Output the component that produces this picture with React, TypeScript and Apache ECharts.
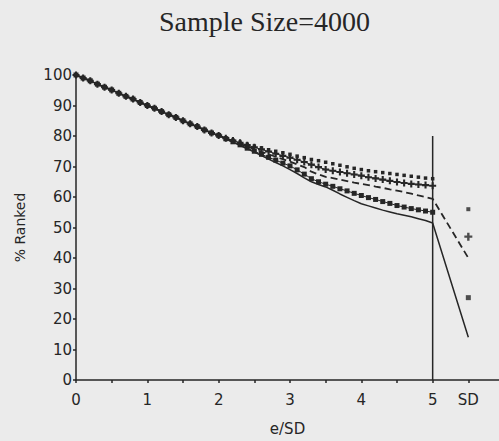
import React, { useEffect, useRef } from "react";
import * as echarts from "echarts";

const xValues = [0,0.1,0.2,0.3,0.4,0.5,0.6,0.7,0.8,0.9,1.0,1.1,1.2,1.3,1.4,1.5,1.6,1.7,1.8,1.9,2.0,2.1,2.2,2.3,2.4,2.5,2.6,2.7,2.8,2.9,3.0,3.1,3.2,3.3,3.4,3.5,3.6,3.7,3.8,3.9,4.0,4.1,4.2,4.3,4.4,4.5,4.6,4.7,4.8,4.9,5.0];

const common = [100,99.0,98.1,97.0,96.0,95.1,94.0,93.0,92.1,91.0,90.0,89.1,88.0,87.0,86.1,85.0,84.0,83.1,82.0,81.0,80.2];

const dottedTail = [79.4,78.7,78.0,77.3,76.7,76.1,75.5,75.0,74.5,74.0,73.4,72.9,72.3,71.9,71.4,70.9,70.4,69.9,69.4,69.0,68.6,68.3,68.0,67.7,67.4,67.1,66.8,66.5,66.2,66.0];
const plusTail = [79.3,78.5,77.8,77.0,76.3,75.6,74.9,74.2,73.5,72.9,72.2,71.5,70.6,69.8,69.0,68.6,68.2,67.8,67.4,67.0,66.5,66.1,65.7,65.3,64.9,64.6,64.3,64.1,63.9,63.7];
const dashedTail = [79.2,78.3,77.4,76.6,75.7,74.8,74.0,73.2,72.4,71.6,70.7,69.8,68.3,67.4,66.6,66.2,65.7,65.2,64.7,64.3,63.9,63.4,63.0,62.5,62.1,61.6,61.1,60.5,60.0,59.4];
const crossTail = [79.1,78.1,77.1,76.0,75.0,74.0,73.0,72.1,71.1,70.2,68.9,67.5,66.0,65.0,64.2,63.5,62.7,62.0,61.2,60.5,59.8,59.2,58.5,57.9,57.2,56.7,56.2,55.8,55.4,55.0];
const solidTail = [79.0,78.0,76.9,75.8,74.7,73.6,72.4,71.3,70.2,69.0,67.7,66.3,65.0,64.1,63.3,62.2,61.0,59.9,58.8,57.8,57.1,56.4,55.7,55.1,54.5,54.0,53.5,52.9,52.3,51.5];

const sdX = 5.5;
const sdDotted = 56;
const sdPlus = 47;
const sdDashed = 40;
const sdCross = 27;
const sdSolid = 14;

const dividerX = 5;
const dividerY = [0, 80];

const xTickLabels: Record<string, string> = { "0": "0", "1": "1", "2": "2", "3": "3", "4": "4", "5": "5", "5.5": "SD" };

const INK = "#262626";
const PLUS = "path://M3.5,0H6.5V3.5H10V6.5H6.5V10H3.5V6.5H0V3.5H3.5Z";

function build(tail: number[]) {
  const ys = common.concat(tail);
  return xValues.map((x, i) => [x, ys[i]]);
}

export default function App() {
  const ref = useRef<HTMLDivElement>(null);
  useEffect(() => {
    if (!ref.current) return;
    const chart = echarts.init(ref.current, null, { renderer: "svg" });
    const sans = "DejaVu Sans";
    chart.setOption({
      animation: false,
      backgroundColor: "#ebebeb",
      title: {
        text: "Sample Size=4000",
        left: 154,
        top: 2,
        textStyle: { fontFamily: "Liberation Serif", fontSize: 28, fontWeight: "normal", color: INK },
      },
      grid: { left: 76, right: 0, top: 75, bottom: 58 },
      xAxis: {
        type: "value",
        min: 0,
        max: 5.93,
        interval: 0.5,
        splitLine: { show: false },
        axisLine: { lineStyle: { color: INK, width: 1.5 } },
        axisTick: { show: true, length: 3, lineStyle: { color: INK, width: 1.5 } },
        axisLabel: {
          margin: 12,
          fontFamily: sans,
          fontSize: 15,
          color: INK,
          showMaxLabel: false,
          formatter: (v: number) => {
            const k = String(Math.round(v * 10) / 10);
            return xTickLabels[k] ?? "";
          },
        },
        name: "e/SD",
        nameLocation: "middle",
        nameGap: 41,
        nameTextStyle: { fontFamily: sans, fontSize: 15, color: INK },
      },
      yAxis: {
        type: "value",
        min: 0,
        max: 100,
        interval: 10,
        splitLine: { show: false },
        axisLine: { show: true, lineStyle: { color: INK, width: 1.5 } },
        axisTick: { show: true, length: 3, lineStyle: { color: INK, width: 1.5 } },
        axisLabel: { margin: 4, fontFamily: sans, fontSize: 15, color: INK },
        name: "% Ranked",
        nameLocation: "middle",
        nameGap: 49,
        nameTextStyle: { fontFamily: sans, fontSize: 14, color: INK },
      },
      series: [
        {
          type: "line",
          data: [[dividerX, dividerY[0]], [dividerX, dividerY[1]]],
          showSymbol: false,
          lineStyle: { color: INK, width: 1.5 },
          z: 1,
        },
        {
          type: "line",
          data: build(solidTail).concat([[sdX, sdSolid]]),
          showSymbol: false,
          lineStyle: { color: INK, width: 1.5 },
        },
        {
          type: "line",
          data: build(dashedTail).concat([[sdX, sdDashed]]),
          showSymbol: false,
          lineStyle: { color: INK, width: 1.8, type: [7, 4] },
        },
        {
          type: "line",
          data: build(crossTail),
          symbol: "rect",
          symbolSize: 5,
          showSymbol: true,
          itemStyle: { color: INK },
          lineStyle: { color: INK, width: 1 },
        },
        {
          type: "line",
          data: build(plusTail),
          symbol: PLUS,
          symbolSize: 7,
          showSymbol: true,
          itemStyle: { color: INK },
          lineStyle: { color: INK, width: 1 },
        },
        {
          type: "line",
          data: build(dottedTail),
          symbol: "rect",
          symbolSize: 3.5,
          showSymbol: true,
          itemStyle: { color: INK },
          lineStyle: { width: 0, opacity: 0 },
        },
        {
          type: "scatter",
          data: [[sdX, sdDotted]],
          symbol: "rect",
          symbolSize: 4,
          itemStyle: { color: INK },
        },
        {
          type: "scatter",
          data: [[sdX, sdPlus]],
          symbol: PLUS,
          symbolSize: 8,
          itemStyle: { color: INK },
        },
        {
          type: "scatter",
          data: [[sdX, sdCross]],
          symbol: "rect",
          symbolSize: 5,
          itemStyle: { color: INK },
        },
      ],
    });
    return () => chart.dispose();
  }, []);
  return (
    <div
      ref={ref}
      style={{ position: "absolute", left: 0, top: 0, width: 499, height: 441 }}
    />
  );
}
